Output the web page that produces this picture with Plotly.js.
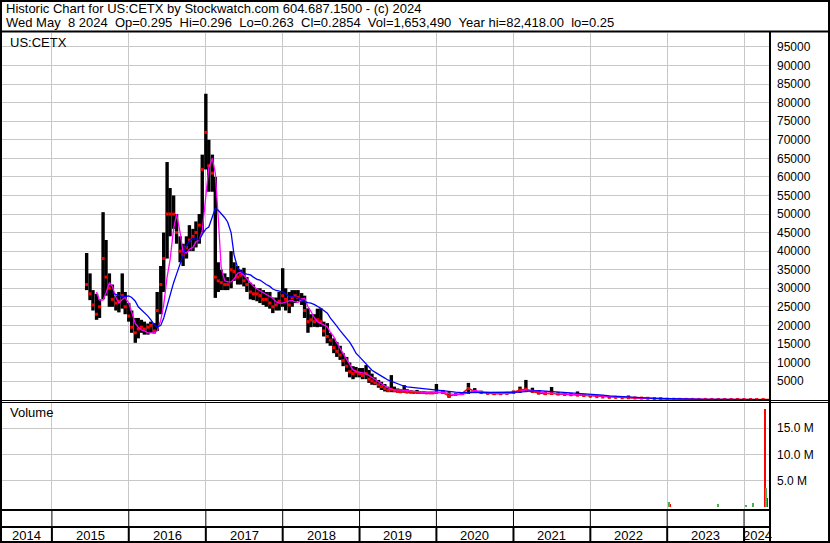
<!DOCTYPE html>
<html><head><meta charset="utf-8">
<script src="https://cdn.plot.ly/plotly-3.0.1.min.js"></script>
<style>html,body{margin:0;padding:0;background:#fff;} #chart{width:830px;height:543px;}</style>
</head><body><div id="chart"></div>
<script>
// ---------------- DATA ----------------
const dates = [
'2015-06-15','2015-07-01','2015-07-15','2015-08-01','2015-08-15','2015-09-01','2015-09-15','2015-10-01','2015-10-15','2015-11-01','2015-11-15','2015-12-01','2015-12-15',
'2016-01-01','2016-01-15','2016-02-01','2016-02-15','2016-03-01','2016-03-15','2016-04-01','2016-04-15','2016-05-01','2016-05-15','2016-06-01','2016-06-15','2016-07-01','2016-07-15','2016-08-01','2016-08-15','2016-09-01','2016-09-15','2016-10-01','2016-10-15','2016-11-01','2016-11-15','2016-12-01','2016-12-15',
'2017-01-01','2017-01-15','2017-02-01','2017-02-15','2017-03-01','2017-03-15','2017-04-01','2017-04-15','2017-05-01','2017-05-15','2017-06-01','2017-06-15','2017-07-01','2017-07-15','2017-08-01','2017-08-15','2017-09-01','2017-09-15','2017-10-01','2017-10-15','2017-11-01','2017-11-15','2017-12-01','2017-12-15',
'2018-01-01','2018-01-15','2018-02-01','2018-02-15','2018-03-01','2018-03-15','2018-04-01','2018-04-15','2018-05-01','2018-05-15','2018-06-01','2018-06-15','2018-07-01','2018-07-15','2018-08-01','2018-08-15','2018-09-01','2018-09-15','2018-10-01','2018-10-15','2018-11-01','2018-11-15','2018-12-01','2018-12-15',
'2019-01-01','2019-01-15','2019-02-01','2019-02-15','2019-03-01','2019-03-15','2019-04-01','2019-04-15','2019-05-01','2019-05-15','2019-06-01','2019-06-15','2019-07-01','2019-07-15','2019-08-01','2019-08-15','2019-09-01','2019-09-15','2019-10-01','2019-10-15','2019-11-01','2019-11-15','2019-12-01','2019-12-15',
'2020-01-01','2020-02-01','2020-03-01','2020-04-01','2020-05-01','2020-06-01','2020-07-01','2020-08-01','2020-09-01','2020-10-01','2020-11-01','2020-12-01',
'2021-01-01','2021-02-01','2021-03-01','2021-04-01','2021-05-01','2021-06-01','2021-07-01','2021-08-01','2021-09-01','2021-10-01','2021-11-01','2021-12-01',
'2022-01-01','2022-02-01','2022-03-01','2022-04-01','2022-05-01','2022-06-01','2022-07-01','2022-08-01','2022-09-01','2022-10-01','2022-11-01','2022-12-01',
'2023-01-01','2023-02-01','2023-03-01','2023-04-01','2023-05-01','2023-06-01','2023-07-01','2023-08-01','2023-09-01','2023-10-01','2023-11-01','2023-12-01',
'2024-01-01','2024-02-01','2024-03-01','2024-04-01','2024-05-08'];

const high = [
39500,34000,29500,28500,27000,50500,43000,34000,31000,28000,29000,34000,29000,
26000,24000,22000,22000,21500,21000,20500,21000,20600,29000,36000,45000,64000,57000,55000,50000,44000,42000,44000,47000,46000,48000,50000,66000,
82400,70000,66000,60000,37000,35000,34000,33000,40000,37000,36000,35000,35500,33000,31500,31000,30000,30000,29500,29000,29000,27500,27500,29000,
35400,30000,29000,29500,29500,29500,28700,28000,24600,23000,23000,24500,24600,21000,20600,18000,16500,15500,14500,12500,11500,10000,9000,8800,
8500,8500,9300,8000,7000,6000,5300,4800,4200,3500,6600,3500,3000,2800,3900,2800,2500,2400,2600,2200,2200,2100,2100,2100,
4200,2600,2000,1800,2000,4500,3100,2400,2000,1900,1900,2000,
2400,3500,5300,3200,2400,2200,3400,2000,1900,1800,2200,1500,
1300,1100,1000,900,800,700,1100,600,500,500,450,400,
150,120,100,90,80,70,65,60,50,45,40,35,
30,20,15,10,0.296];

const low = [
29500,26800,24000,21500,22000,27000,28000,25000,25000,24000,23500,24500,23000,
21000,18000,15300,16500,18000,17500,17500,18000,17800,18500,23000,29000,38000,44000,46000,42000,37000,36000,38000,40000,40000,41000,42000,45000,
62000,56000,56000,27400,29000,29500,29500,29500,30000,32000,31000,31000,30500,29000,27000,26800,26500,26000,25500,25000,24500,23300,24000,24000,
25000,24000,23300,25000,26000,26500,25500,22000,18000,19500,19600,19500,19600,17000,15200,14500,12500,11500,10700,9000,7500,6000,5500,6000,
6000,5500,5500,4500,4000,3900,3200,2600,2200,2000,2000,2000,1900,1800,1800,1800,1700,1700,1700,1600,1600,1600,1600,1600,
1600,1500,500,1000,1300,1500,1800,1600,1400,1300,1300,1400,
1500,1800,2000,1800,1400,1300,1300,1200,1100,1100,1000,900,
800,700,600,500,500,400,400,350,300,300,250,200,
60,60,50,40,40,35,30,25,20,18,15,12,
10,8,5,3,0.263];

const close = [
31000,28500,25500,23000,25000,38000,33000,30000,27000,26000,26500,28000,25000,
22500,19500,18000,19000,19500,19000,19500,20000,18500,24000,31000,38000,50000,50000,50000,45000,40000,39000,41000,43000,44000,45000,47000,62000,
72000,63000,61000,33000,32000,31500,31000,31000,35000,34500,33000,33500,32000,31000,29000,28500,28500,28000,27000,27000,26000,25000,25500,26500,
28000,27000,25500,27500,28000,27500,27000,24000,21000,21500,21000,21500,21000,18500,17000,16000,14000,13000,12000,10500,9000,7500,7000,7500,
7000,6500,7000,5500,5000,4500,4000,3500,3000,2500,2800,2400,2200,2100,2200,2000,2000,1900,1900,1900,1900,1800,1800,1800,
2000,1900,1000,1400,1600,3000,2200,1900,1700,1600,1600,1700,
2000,2600,2800,2200,1800,1600,1700,1500,1400,1300,1200,1100,
900,800,700,600,600,500,500,450,400,350,300,250,
90,80,70,60,55,50,45,40,35,30,25,20,
15,12,8,5,0.2854];

// short moving average (magenta)
const maShort = [
null,null,null,29000,26800,26800,28700,31500,30500,27500,26000,27000,27500,
26000,23500,20500,19500,18800,18500,18000,18000,18000,18500,21400,25500,33000,37600,46000,50000,45000,39700,39500,40500,41000,42500,43000,45500,
55000,62400,65000,61000,49000,35500,32000,31700,31700,32500,34000,34300,33500,32500,31400,30500,29800,29300,28700,28300,27800,27300,26300,26000,
26000,26300,26600,26700,26300,26200,27000,27300,25000,23800,22000,21000,20500,20000,19600,18200,16900,15300,13800,12600,11000,9500,8000,7600,
7400,7300,7000,6500,5900,5300,4800,4300,3700,3200,2800,2600,2600,2600,2600,2500,2300,2200,2100,2000,1900,1900,1800,1800,
1900,2000,1600,1300,1400,1800,2500,2300,1900,1700,1600,1600,
1800,2200,2600,2500,2100,1800,1700,1600,1500,1400,1300,1200,
1000,900,800,700,650,550,500,450,400,350,300,250,
150,100,80,70,60,55,50,45,40,35,30,25,
20,15,10,6,3];

// long moving average (blue)
const maLong = [
null,null,null,null,null,null,null,null,28700,28400,28000,27700,27800,
27900,27500,26500,25000,24200,23500,22500,21500,20200,19500,20000,22000,25500,28500,31500,33800,36800,39000,41500,42800,43300,43300,43000,44500,
46000,46500,49000,51500,51000,50200,49000,47800,45000,39000,35500,34600,34000,33800,33600,33000,32400,32200,31500,31000,30500,29800,29400,29200,
29000,28500,27800,27700,27700,27400,26800,26400,26100,26000,25600,25200,24600,24000,23300,22000,20600,19800,18600,17600,16600,15500,14000,12500,
11500,10600,9600,8600,7900,7400,6900,6400,5800,5300,4900,4600,4200,3900,3600,3400,3300,3200,3100,3000,2800,2700,2600,2500,
2400,2300,2200,2000,1900,1900,2000,2100,2100,2000,1900,1900,
1900,2000,2200,2400,2400,2300,2200,2100,2000,1800,1600,1500,
1400,1300,1200,1000,900,750,600,500,450,400,350,300,
250,120,90,80,70,60,55,50,45,40,35,30,
25,20,15,10,6];

const volUpDates = ['2023-01-10','2023-08-29','2024-01-10','2024-02-12','2024-04-14'];
const volUp = [1000000, 600000, 400000, 800000, 3600000];
const volDownDates = ['2023-01-14','2024-04-10','2024-04-19'];
const volDown = [600000, 18700000, 1653490];

const priceTicks = [5000,10000,15000,20000,25000,30000,35000,40000,45000,50000,55000,60000,65000,70000,75000,80000,85000,90000,95000];
const priceTickText = ['5000','10000','15000','20000','25000','30000','35000','40000','45000','50000','55000','60000','65000','70000','75000','80000','85000','90000','95000'];
const volTicks = [5000000, 10000000, 15000000];
const volTickText = ['5.0 M','10.0 M','15.0 M'];
const yearStarts = ['2015-01-01','2016-01-01','2017-01-01','2018-01-01','2019-01-01','2020-01-01','2021-01-01','2022-01-01','2023-01-01','2024-01-01'];
const yearLabels = ['2014','2015','2016','2017','2018','2019','2020','2021','2022','2023','2024'];
const xStart = '2014-05-09', xEnd = '2024-05-08';

const headerLine1 = 'Historic Chart for US:CETX by Stockwatch.com 604.687.1500 - (c) 2024';
const headerLine2 = 'Wed May  8 2024  Op=0.295  Hi=0.296  Lo=0.263  Cl=0.2854  Vol=1,653,490  Year hi=82,418.00  lo=0.25';
const symbolLabel = 'US:CETX';
const volumeLabel = 'Volume';

// ---------------- LAYOUT HELPERS ----------------
const W = 830, H = 543, ML = 2, MR = 59, MT = 33, MB = 16;
const PW = W - ML - MR, PH = H - MT - MB;
const px = p => (p - ML) / PW;          // pixel x -> paper
const py = p => (H - MB - p) / PH;      // pixel y -> paper
const FONT = 'Liberation Sans, Arial, sans-serif';
const GRID = '#c8c8c8';
const nb = s => s.replace(/ /g, '\u00a0');

const traces = [
  {type:'scatter', mode:'lines', x:dates.slice(108), y:close.slice(108), xaxis:'x', yaxis:'y',
   line:{color:'#ff0000', width:1.5}, hoverinfo:'skip', showlegend:false},
  {type:'ohlc', x:dates, open:close, high:high, low:low, close:close, xaxis:'x', yaxis:'y',
   increasing:{line:{color:'#000000', width:3.4}}, decreasing:{line:{color:'#000000', width:3.4}},
   tickwidth:0, hoverinfo:'skip', showlegend:false},
  {type:'scatter', mode:'markers', x:dates, y:close, xaxis:'x', yaxis:'y',
   marker:{color:'#ff0000', size:3, symbol:'square', line:{width:0}}, hoverinfo:'skip', showlegend:false},
  {type:'scatter', mode:'lines', x:dates, y:maShort, xaxis:'x', yaxis:'y',
   line:{color:'#ff00ff', width:1.3}, connectgaps:false, hoverinfo:'skip', showlegend:false},
  {type:'scatter', mode:'lines', x:dates, y:maLong, xaxis:'x', yaxis:'y',
   line:{color:'#0000ff', width:1.3}, connectgaps:false, hoverinfo:'skip', showlegend:false},
  {type:'bar', x:volDownDates, y:volDown, xaxis:'x2', yaxis:'y2', marker:{color:'#ff0000', line:{width:0}},
   width:6.5e8, hoverinfo:'skip', showlegend:false},
  {type:'bar', x:volUpDates, y:volUp, xaxis:'x2', yaxis:'y2', marker:{color:'#4caf50', line:{width:0}},
   width:6.5e8, hoverinfo:'skip', showlegend:false}
];

// shapes: frames and dividers
const shapes = [];
const line = (x0,y0,x1,y1,w,xref) => shapes.push({type:'line', xref:xref||'paper', yref:'paper',
  x0:x0, y0:y0, x1:x1, y1:y1, line:{color:'#000', width:w}, layer:'above'});
shapes.push({type:'rect', xref:'paper', yref:'paper', x0:px(1), x1:px(829), y0:py(542), y1:py(1),
  line:{color:'#000', width:2}, fillcolor:'rgba(0,0,0,0)', layer:'above'});
line(px(0), py(31.5), px(830), py(31.5), 2);
line(px(770), py(31), px(770), py(542), 2);
line(px(0), py(400.5), px(830), py(400.5), 1);
line(px(0), py(402.5), px(830), py(402.5), 1);
line(px(0), py(510), px(770), py(510), 2);
line(px(0), py(527), px(770), py(527), 2);
yearStarts.forEach(d => {
  line(d, py(510), d, py(527), 1, 'x');
  line(d, py(527), d, py(542), 2, 'x');
});

// annotations
const annotations = [
  {text:nb(headerLine1), xref:'paper', yref:'paper', x:px(4), y:py(9), xanchor:'left', yanchor:'middle', showarrow:false,
   font:{family:FONT, size:13, color:'#000'}},
  {text:nb(headerLine2), xref:'paper', yref:'paper', x:px(4), y:py(22), xanchor:'left', yanchor:'middle', showarrow:false,
   font:{family:FONT, size:13, color:'#000'}},
  {text:symbolLabel, xref:'paper', yref:'paper', x:px(8), y:py(42), xanchor:'left', yanchor:'middle', showarrow:false,
   font:{family:FONT, size:13, color:'#000'}},
  {text:volumeLabel, xref:'paper', yref:'paper', x:px(8), y:py(413), xanchor:'left', yanchor:'middle', showarrow:false,
   font:{family:FONT, size:13, color:'#000'}}
];
const bounds = [xStart].concat(yearStarts).concat([xEnd]).map(d => new Date(d).getTime());
yearLabels.forEach((lab, i) => {
  const mid = new Date((bounds[i] + bounds[i+1]) / 2).toISOString();
  annotations.push({text:lab, xref:'x', yref:'paper', x:mid, y:py(535), xanchor:'center', yanchor:'middle',
    showarrow:false, font:{family:FONT, size:13, color:'#000'}});
});

const xCommon = {type:'date', range:[xStart, xEnd], tickmode:'array', tickvals:yearStarts, showticklabels:false,
  showgrid:true, gridcolor:GRID, gridwidth:1, ticks:'', showline:false, zeroline:false, fixedrange:true};

const layout = {
  width:W, height:H, margin:{l:ML, r:MR, t:MT, b:MB, pad:0},
  paper_bgcolor:'#fff', plot_bgcolor:'#fff', showlegend:false, hovermode:false, bargap:0,
  font:{family:FONT, size:12, color:'#000'},
  xaxis:Object.assign({}, xCommon, {domain:[0,1], anchor:'y', rangeslider:{visible:false}}),
  xaxis2:Object.assign({}, xCommon, {domain:[0,1], anchor:'y2', matches:'x'}),
  yaxis:{domain:[py(400), 1], range:[-108, 98770], side:'right', tickmode:'array', tickvals:priceTicks, ticktext:priceTickText,
    showgrid:true, gridcolor:GRID, gridwidth:1, zeroline:false, showline:false, ticks:'', ticklabelstandoff:5,
    tickfont:{family:FONT, size:12, color:'#000'}, fixedrange:true},
  yaxis2:{domain:[py(510), py(402)], range:[-572000, 20010000], side:'right', tickmode:'array', tickvals:volTicks, ticktext:volTickText,
    showgrid:true, gridcolor:GRID, gridwidth:1, zeroline:false, showline:false, ticks:'', ticklabelstandoff:5,
    tickfont:{family:FONT, size:12, color:'#000'}, fixedrange:true},
  shapes:shapes, annotations:annotations
};

Plotly.newPlot('chart', traces, layout, {staticPlot:true, displayModeBar:false});
</script>
</body></html>
